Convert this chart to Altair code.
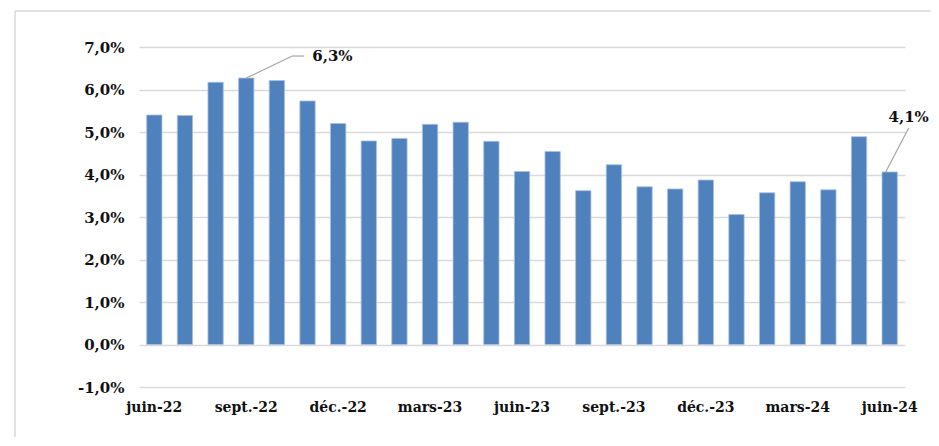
import altair as alt
import pandas as pd

months = ["juin-22", "juil.-22", "août-22", "sept.-22", "oct.-22", "nov.-22",
          "déc.-22", "janv.-23", "févr.-23", "mars-23", "avr.-23", "mai-23",
          "juin-23", "juil.-23", "août-23", "sept.-23", "oct.-23", "nov.-23",
          "déc.-23", "janv.-24", "févr.-24", "mars-24", "avr.-24", "mai-24", "juin-24"]
values = [5.40, 5.39, 6.17, 6.27, 6.21, 5.73, 5.20, 4.79, 4.85, 5.18, 5.23, 4.78,
          4.07, 4.54, 3.62, 4.23, 3.71, 3.66, 3.87, 3.06, 3.57, 3.83, 3.64, 4.89, 4.06]
shown_labels = ["juin-22", "sept.-22", "déc.-22", "mars-23", "juin-23",
                "sept.-23", "déc.-23", "mars-24", "juin-24"]
y_ticks = [-1, 0, 1, 2, 3, 4, 5, 6, 7]

ann_month = ["sept.-22", "juin-24"]
ann_value = [6.27, 4.06]
ann_text = ["6,3%", "4,1%"]

df = pd.DataFrame({"mois": months, "taux": values})
ann = pd.DataFrame({"mois": ann_month, "taux": ann_value, "txt": ann_text})

FONT = "DejaVu Serif"

x = alt.X("mois:N", sort=months,
          scale=alt.Scale(paddingInner=0.5, paddingOuter=0.25),
          axis=alt.Axis(values=shown_labels, labelAngle=0, domain=False, ticks=False,
                        grid=False, labelPadding=13, labelFontSize=14,
                        labelFontWeight="bold", labelFont=FONT, labelColor="#111111",
                        title=None))
y = alt.Y("taux:Q",
          scale=alt.Scale(domain=[-1, 7], nice=False, zero=False),
          axis=alt.Axis(values=y_ticks, domain=False, ticks=False, grid=True,
                        gridColor="#d9d9d9", gridWidth=1.5, labelPadding=15,
                        labelFontSize=15, labelFontWeight="bold", labelFont=FONT,
                        labelColor="#111111", title=None,
                        labelExpr="(datum.value < 0 ? '-' : '') + replace(format(abs(datum.value), '.1f'), '.', ',') + '%'"))

bars = alt.Chart(df).mark_bar(color="#4f81bd", stroke="#a9c0e0", strokeWidth=0.8).encode(
    x=x, y=y, y2=alt.datum(0))

frame_src = pd.DataFrame({"a": [0]})
frame_top = alt.Chart(frame_src).mark_rule(color="#d9d9d9", strokeWidth=1.5).encode(
    x=alt.value(-124), x2=alt.value(900), y=alt.value(-36))
frame_left = alt.Chart(frame_src).mark_rule(color="#d9d9d9", strokeWidth=1.5).encode(
    x=alt.value(-124), y=alt.value(-36), y2=alt.value(420))

a1 = ann[ann["mois"] == "sept.-22"]
a2 = ann[ann["mois"] == "juin-24"]
enc = dict(x=alt.X("mois:N", sort=months), y=alt.Y("taux:Q"),
           x2=alt.X2("mois:N"), y2=alt.Y2("taux:Q"))

lead1 = alt.Chart(a1).mark_rule(color="#a6a6a6", strokeWidth=1.2,
                                x2Offset=46, y2Offset=-22).encode(**enc)
lead1h = alt.Chart(a1).mark_rule(color="#a6a6a6", strokeWidth=1.2,
                                 xOffset=46, yOffset=-22,
                                 x2Offset=58, y2Offset=-22).encode(**enc)
txt1 = alt.Chart(a1).mark_text(align="left", baseline="middle", dx=66, dy=-22,
                               font=FONT, fontSize=15, fontWeight="bold",
                               color="#111111").encode(
    x=alt.X("mois:N", sort=months), y="taux:Q", text="txt:N")

lead2 = alt.Chart(a2).mark_rule(color="#a6a6a6", strokeWidth=1.2,
                                xOffset=-4, x2Offset=19, y2Offset=-44).encode(**enc)
txt2 = alt.Chart(a2).mark_text(align="center", baseline="middle", dx=19, dy=-55,
                               font=FONT, fontSize=15, fontWeight="bold",
                               color="#111111").encode(
    x=alt.X("mois:N", sort=months), y="taux:Q", text="txt:N")

chart = alt.layer(frame_top, frame_left, bars, lead1, lead1h, txt1, lead2, txt2).properties(
    width=766, height=340,
    autosize=alt.AutoSizeParams(type="none"),
    padding={"left": 131, "top": 39, "right": 26, "bottom": 50},
    background="white",
).configure_view(stroke=None)

chart.save("out.html", embed_options={"renderer": "svg", "actions": False})
